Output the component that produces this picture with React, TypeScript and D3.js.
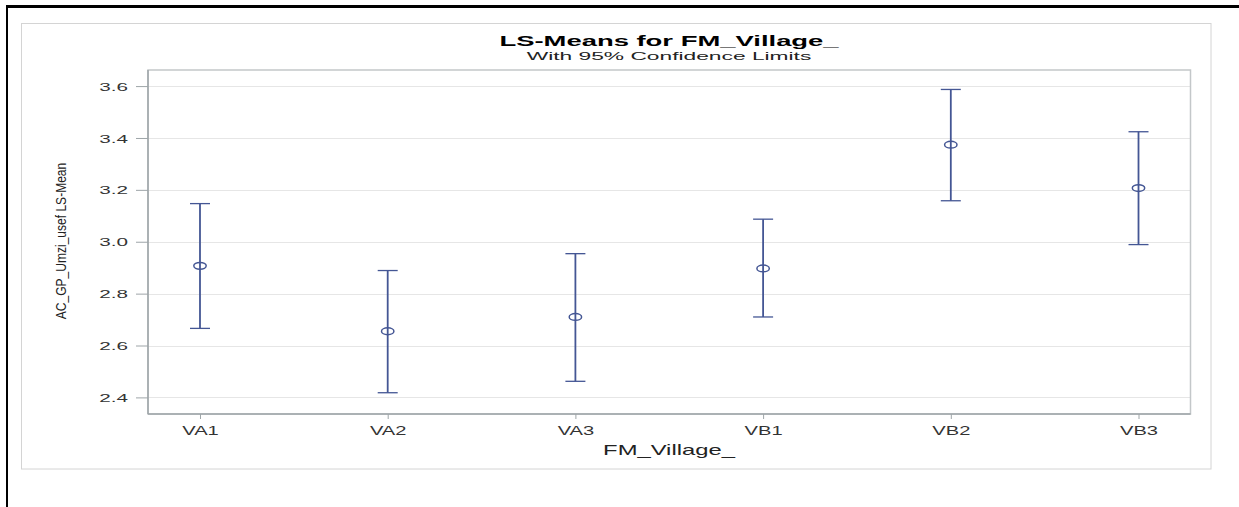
import React, { useRef, useEffect } from "react";
import * as d3 from "d3";

// LS-means and 95% confidence limits
const villages = ["VA1", "VA2", "VA3", "VB1", "VB2", "VB3"];
const lsMeans = [2.907, 2.655, 2.71, 2.897, 3.374, 3.207];
const lowerCL = [2.666, 2.418, 2.462, 2.71, 3.158, 2.989];
const upperCL = [3.147, 2.889, 2.954, 3.087, 3.587, 3.424];
const yTicks = [2.4, 2.6, 2.8, 3.0, 3.2, 3.4, 3.6];

const W = 1239;
const H = 507;
const FONT = "'Liberation Sans', Arial, sans-serif";
const BAR = "#445694";

export default function App() {
  const svgRef = useRef<SVGSVGElement>(null);

  useEffect(() => {
    const svg = d3.select(svgRef.current);
    svg.selectAll("*").remove();

    const plot = { left: 148, right: 1190.5, top: 70, bottom: 414 };

    const x = d3
      .scalePoint<string>()
      .domain(villages)
      .range([plot.left, plot.right])
      .padding(0.277);
    const y = d3
      .scaleLinear()
      .domain([2.336, 3.662])
      .range([plot.bottom, plot.top]);

    // page frame: black top and left edges
    svg.append("rect").attr("x", 6).attr("y", 5).attr("width", W - 6).attr("height", 3).attr("fill", "#000");
    svg.append("rect").attr("x", 6).attr("y", 5).attr("width", 2).attr("height", H - 5).attr("fill", "#000");

    // outer graph frame
    svg
      .append("rect")
      .attr("x", 21.5)
      .attr("y", 23.5)
      .attr("width", 1211 - 21.5)
      .attr("height", 469 - 23.5)
      .attr("fill", "#fff")
      .attr("stroke", "#d4d4d4");

    // title
    svg
      .append("text")
      .attr("transform", `translate(669,46) scale(1.77,1)`)
      .attr("text-anchor", "middle")
      .attr("font-family", FONT)
      .attr("font-weight", "bold")
      .attr("font-size", 15.5)
      .attr("fill", "#000")
      .text("LS-Means for FM_Village_");
    svg
      .append("text")
      .attr("transform", `translate(669,60) scale(1.93,1)`)
      .attr("text-anchor", "middle")
      .attr("font-family", FONT)
      .attr("font-size", 11.8)
      .attr("fill", "#222")
      .text("With 95% Confidence Limits");

    // gridlines
    svg
      .append("g")
      .selectAll("line")
      .data(yTicks)
      .enter()
      .append("line")
      .attr("x1", plot.left)
      .attr("x2", plot.right)
      .attr("y1", (d) => Math.round(y(d)) + 0.5)
      .attr("y2", (d) => Math.round(y(d)) + 0.5)
      .attr("stroke", "#e6e6e6");

    // plot frame
    svg
      .append("rect")
      .attr("x", plot.left)
      .attr("y", plot.top)
      .attr("width", plot.right - plot.left)
      .attr("height", plot.bottom - plot.top)
      .attr("fill", "none")
      .attr("stroke", "#c3c7c9")
      .attr("stroke-width", 1.5);
    svg.append("line").attr("x1", plot.left).attr("x2", plot.left).attr("y1", plot.top).attr("y2", plot.bottom)
      .attr("stroke", "#9ea5a8").attr("stroke-width", 1.5);
    svg.append("line").attr("x1", plot.left).attr("x2", plot.right).attr("y1", plot.bottom).attr("y2", plot.bottom)
      .attr("stroke", "#9ea5a8").attr("stroke-width", 1.5);

    // y axis
    const yAxis = svg
      .append("g")
      .attr("transform", `translate(${plot.left},0)`)
      .call(d3.axisLeft(y).tickValues(yTicks).tickSize(12).tickFormat(d3.format(".1f")));
    yAxis.select(".domain").remove();
    yAxis.selectAll(".tick line").attr("stroke", "#9ea5a8");
    yAxis
      .selectAll(".tick text")
      .attr("x", null)
      .attr("dy", "0.36em")
      .attr("transform", "translate(-20,0) scale(1.8,1)")
      .attr("font-family", FONT)
      .attr("font-size", 11.5)
      .attr("fill", "#333");

    // x axis
    const xAxis = svg
      .append("g")
      .attr("transform", `translate(0,${plot.bottom})`)
      .call(d3.axisBottom(x).tickSize(5));
    xAxis.select(".domain").remove();
    xAxis.selectAll(".tick line").attr("stroke", "#9ea5a8");
    xAxis
      .selectAll(".tick text")
      .attr("y", null)
      .attr("dy", null)
      .attr("transform", "translate(0,21) scale(1.55,1)")
      .attr("font-family", FONT)
      .attr("font-size", 13)
      .attr("fill", "#333");

    // axis titles
    svg
      .append("text")
      .attr("transform", `translate(669,455) scale(1.7,1)`)
      .attr("text-anchor", "middle")
      .attr("font-family", FONT)
      .attr("font-size", 14)
      .attr("fill", "#222")
      .text("FM_Village_");
    svg
      .append("text")
      .attr("transform", `translate(66,241) rotate(-90) scale(0.86,1)`)
      .attr("text-anchor", "middle")
      .attr("font-family", FONT)
      .attr("font-size", 14)
      .attr("fill", "#222")
      .text("AC_GP_Umzi_usef LS-Mean");

    // error bars
    const bars = svg
      .append("g")
      .selectAll("g")
      .data(villages.map((v, i) => ({ v, m: lsMeans[i], lo: lowerCL[i], hi: upperCL[i] })))
      .enter()
      .append("g");

    bars
      .append("line")
      .attr("x1", (d) => x(d.v)!)
      .attr("x2", (d) => x(d.v)!)
      .attr("y1", (d) => y(d.lo))
      .attr("y2", (d) => y(d.hi))
      .attr("stroke", BAR)
      .attr("stroke-width", 1.8);
    bars
      .append("line")
      .attr("x1", (d) => x(d.v)! - 10)
      .attr("x2", (d) => x(d.v)! + 10)
      .attr("y1", (d) => y(d.hi))
      .attr("y2", (d) => y(d.hi))
      .attr("stroke", BAR)
      .attr("stroke-width", 1.3);
    bars
      .append("line")
      .attr("x1", (d) => x(d.v)! - 10)
      .attr("x2", (d) => x(d.v)! + 10)
      .attr("y1", (d) => y(d.lo))
      .attr("y2", (d) => y(d.lo))
      .attr("stroke", BAR)
      .attr("stroke-width", 1.3);
    bars
      .append("ellipse")
      .attr("cx", (d) => x(d.v)!)
      .attr("cy", (d) => y(d.m))
      .attr("rx", 6.2)
      .attr("ry", 3.4)
      .attr("fill", "none")
      .attr("stroke", BAR)
      .attr("stroke-width", 1.5);
  }, []);

  return (
    <svg
      ref={svgRef}
      width={W}
      height={H}
      style={{ position: "absolute", left: 0, top: 0, background: "#fff" }}
    />
  );
}
